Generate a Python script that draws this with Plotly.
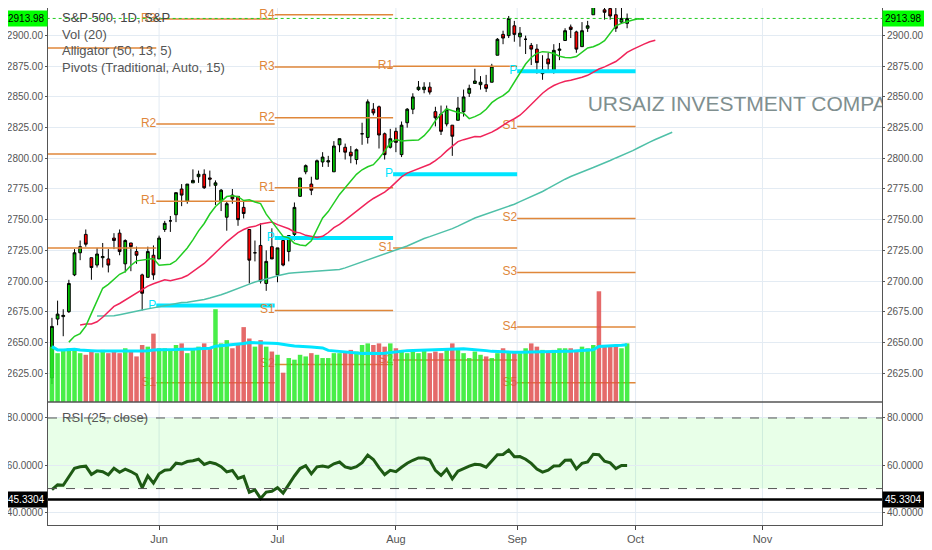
import plotly.graph_objects as go
import numpy as np

opens = [2621,2669,2671,2675,2705,2723,2738,2719,2713,2719,2718,2735,2739,2714,2731,2724,2705,2703,2721,
 2718,2742,2749,2754,2775,2765,2780,2785,2787,2784,2778,2765,2752,2770,2769,2760,2742,2723,2729,2698,2728,
 2705,2733,2724,2738,2769,2789,2779,2783,2797,2797,2789,2811,2809,2805,2799,2820,2817,2840,2842,2820,2809,
 2822,2803,2829,2840,2856,2856,2858,2838,2836,2828,2827,2831,2838,2853,2861,2860,2860,2862,2884,2901,2900,2908,2899,
 2897,2892,2889,2869,2881,2872,2888,2896,2907,2903,2891,2906,2917,2937,2921,2922,2917,2911,2910]
highs = [2670,2684,2677,2701,2726,2733,2742,2719,2727,2731,2726,2739,2742,2734,2731,2728,2706,2728,2729,
 2737,2749,2753,2772,2779,2779,2791,2790,2791,2790,2782,2775,2765,2775,2769,2765,2742,2733,2747,2725,2743,
 2727,2736,2737,2764,2784,2795,2785,2799,2805,2802,2814,2816,2812,2810,2808,2829,2848,2845,2843,2821,2824,
 2825,2830,2841,2853,2863,2862,2862,2842,2843,2843,2827,2850,2856,2860,2873,2867,2868,2877,2898,2904,2916,2912,2907,
 2900,2894,2893,2884,2886,2893,2894,2906,2909,2904,2911,2912,2934,2940,2923,2924,2931,2925,2918]
lows = [2616,2664,2655,2674,2704,2717,2728,2701,2711,2711,2707,2726,2721,2707,2708,2714,2676,2703,2701,
 2718,2740,2740,2748,2761,2763,2780,2780,2775,2777,2762,2757,2741,2763,2745,2751,2698,2716,2698,2692,2718,
 2699,2712,2716,2733,2769,2787,2770,2783,2793,2793,2789,2805,2799,2796,2795,2811,2812,2835,2808,2799,2808,
 2805,2801,2825,2836,2855,2853,2852,2826,2819,2826,2802,2831,2834,2850,2861,2856,2854,2862,2884,2893,2898,2895,2891,
 2885,2876,2869,2864,2870,2869,2880,2896,2898,2886,2891,2903,2917,2925,2913,2913,2903,2910,2906]
closes = [2663,2673,2672,2698,2723,2728,2730,2711,2722,2720,2713,2733,2724,2733,2728,2721,2690,2724,2705,
 2735,2747,2749,2772,2770,2779,2782,2787,2776,2783,2780,2774,2763,2767,2750,2755,2717,2723,2700,2716,2718,
 2727,2713,2737,2760,2784,2794,2774,2798,2801,2798,2810,2816,2805,2802,2807,2820,2846,2837,2819,2803,2816,
 2813,2827,2840,2850,2858,2858,2854,2833,2822,2840,2818,2841,2850,2857,2863,2862,2857,2875,2897,2898,2914,2901,2902,
 2897,2889,2878,2872,2877,2888,2889,2904,2905,2889,2904,2908,2931,2930,2919,2916,2906,2914,2914]
volumes = [3.4,3.0,3.2,3.3,3.3,3.0,2.9,3.1,3.0,3.2,3.0,3.1,3.0,3.3,3.1,2.8,3.5,3.4,4.2,
 3.3,3.3,3.2,3.5,3.6,3.0,3.3,3.4,3.6,3.3,5.7,3.6,3.8,3.3,3.5,4.6,3.9,3.4,3.8,3.4,3.1,
 2.9,1.8,2.7,2.6,2.9,2.8,3.0,2.9,2.7,2.7,3.0,3.0,3.1,3.2,3.1,3.5,3.6,3.5,3.6,3.4,3.6,
 3.3,3.2,3.0,3.1,3.0,3.2,3.0,3.1,3.0,3.2,3.6,3.3,3.0,2.7,3.1,2.9,2.8,2.7,3.0,3.3,3.1,3.1,3.0,
 3.3,3.6,3.4,3.2,3.1,3.2,3.3,3.3,3.3,3.2,3.4,3.3,3.5,6.8,3.4,3.5,3.5,3.3,3.6]

month_labels = ["Jun", "Jul", "Aug", "Sep", "Oct", "Nov"]
month_pos = [19, 40, 61, 82.5, 103.5, 126]
piv_bounds = [-1, 18.5, 39.5, 60.5, 82.5, 103.5]
pivots = [
    {"R3": 2890, "R2": 2803.5, "R1": 2727},
    {"R3": 2913.6, "R2": 2828, "R1": 2765, "P": 2680, "S1": 2617},
    {"R4": 2917, "R3": 2874.5, "R2": 2833, "R1": 2776, "P": 2735, "S1": 2676, "S2": 2632},
    {"R1": 2875, "P": 2787, "S1": 2727, "S2": 2635.6},
    {"P": 2871, "S1": 2826, "S2": 2751, "S3": 2707, "S4": 2662.5, "S5": 2617},
]
last_price = 2913.98
rsi_last = 45.3304

n = len(closes)
idx = np.arange(n)
hl2 = (np.array(highs) + np.array(lows)) / 2

def smma(src, length, seed):
    out = []
    v = seed
    for s in src:
        v = (v * (length - 1) + s) / length
        out.append(v)
    return np.array(out)

jaw = smma(hl2, 50, 2672)
teeth = smma(hl2, 13, 2666)
lips = smma(hl2, 5, 2652)

ag, al = 6.5, 6.5
rsi = [49.5]
for i in range(1, n):
    d = closes[i] - closes[i - 1]
    ag = (ag * 24 + max(d, 0)) / 25
    al = (al * 24 + max(-d, 0)) / 25
    rsi.append(100 - 100 / (1 + ag / al))

vol_ma = [np.mean(volumes[max(0, i - 19):i + 1]) for i in range(n)]

fig = go.Figure()
ORANGE = "#e0873a"
CYAN = "#00e5ff"
F = "Liberation Sans"
SPLIT = 123 / 517

for k, lv in enumerate(pivots):
    x0, x1 = piv_bounds[k], piv_bounds[k + 1]
    for name, val in lv.items():
        isP = name == "P"
        fig.add_trace(go.Scatter(x=[x0, x1], y=[val, val], mode="lines", yaxis="y",
                                 line=dict(color=CYAN if isP else ORANGE, width=4 if isP else 1.5),
                                 hoverinfo="skip", showlegend=False))
        fig.add_trace(go.Scatter(x=[x0], y=[val], mode="text", text=[name], yaxis="y",
                                 textposition="middle left", cliponaxis=True,
                                 textfont=dict(color=CYAN if isP else ORANGE, size=12, family=F),
                                 hoverinfo="skip", showlegend=False))

vcol = ["rgba(40,235,40,0.85)" if c >= o else "rgba(225,80,80,0.85)" for o, c in zip(opens, closes)]
fig.add_trace(go.Bar(x=idx, y=volumes, yaxis="y3", marker=dict(color=vcol, line=dict(width=0)),
                     width=0.8, showlegend=False, hoverinfo="skip"))
fig.add_trace(go.Scatter(x=idx, y=vol_ma, yaxis="y3", mode="lines", line=dict(color=CYAN, width=3),
                         showlegend=False, hoverinfo="skip"))

fig.add_trace(go.Scatter(x=idx + 8, y=jaw, yaxis="y", mode="lines", line=dict(color="#4fc0a8", width=1.5), showlegend=False))
fig.add_trace(go.Scatter(x=idx + 5, y=teeth, yaxis="y", mode="lines", line=dict(color="#f0245a", width=1.5), showlegend=False))
fig.add_trace(go.Scatter(x=idx + 3, y=lips, yaxis="y", mode="lines", line=dict(color="#22cc22", width=1.5), showlegend=False))

fig.add_trace(go.Candlestick(x=idx, open=opens, high=highs, low=lows, close=closes, yaxis="y",
                             increasing=dict(fillcolor="#00c000", line=dict(color="#000000", width=1)),
                             decreasing=dict(fillcolor="#ff0000", line=dict(color="#000000", width=1)),
                             whiskerwidth=0, showlegend=False))

fig.add_trace(go.Scatter(x=[-2, 150], y=[last_price, last_price], yaxis="y", mode="lines",
                         line=dict(color="#22cc22", width=1, dash="dot"), showlegend=False))
fig.add_trace(go.Scatter(x=[95], y=[2843], yaxis="y", mode="text", text=["URSAIZ INVESTMENT COMPANY"],
                         textposition="middle right", cliponaxis=True,
                         textfont=dict(size=21, color="#7f8f8f", family=F), showlegend=False))
fig.add_trace(go.Scatter(x=[0], y=[2700], yaxis="y2", mode="markers", marker=dict(opacity=0), showlegend=False))

fig.add_trace(go.Scatter(x=idx, y=rsi, yaxis="y4", mode="lines", line=dict(color="#1e5a14", width=3), showlegend=False))
fig.add_trace(go.Scatter(x=[0], y=[60], yaxis="y5", mode="markers", marker=dict(opacity=0), showlegend=False))

shapes = []
for p in month_pos:
    shapes.append(dict(type="line", xref="x", yref="paper", x0=p, x1=p, y0=0, y1=1,
                       line=dict(color="#e3ebf3", width=1), layer="below"))
shapes += [
    dict(type="rect", xref="paper", yref="y4", x0=0, x1=1, y0=50, y1=80, fillcolor="rgba(0,255,0,0.09)", line=dict(width=0), layer="below"),
    dict(type="line", xref="paper", yref="y4", x0=0, x1=1, y0=80, y1=80, line=dict(color="#555", width=1, dash="dash")),
    dict(type="line", xref="paper", yref="y4", x0=0, x1=1, y0=50, y1=50, line=dict(color="#555", width=1, dash="dash")),
    dict(type="line", xref="paper", yref="y4", x0=0, x1=1, y0=rsi_last, y1=rsi_last, line=dict(color="#000", width=2.5)),
    dict(type="line", xref="paper", yref="paper", x0=0, x1=1, y0=SPLIT, y1=SPLIT, line=dict(color="#555", width=1.5)),
]

ann = []
for i, t in enumerate(["S&P 500, 1D, S&P", "Vol (20)", "Alligator (50, 13, 5)", "Pivots (Traditional, Auto, 15)"]):
    ann.append(dict(xref="paper", yref="paper", x=0.014, y=1 - (10 + 16.5 * i) / 517, text=t, showarrow=False,
                    xanchor="left", yanchor="middle", font=dict(size=13, color="#444" if i == 0 else "#555", family=F)))
ann.append(dict(xref="paper", yref="y4", x=0.014, y=80, text="RSI (25, close)", showarrow=False,
                xanchor="left", yanchor="middle", font=dict(size=13, color="#555", family=F)))
for xp, xa in [(0, "right"), (1, "left")]:
    ann.append(dict(xref="paper", yref="y", x=xp, y=last_price, text="2913.98", showarrow=False, xanchor=xa,
                    xshift=0, bgcolor="#00ff00", font=dict(size=10, color="#000", family=F), borderpad=2))
    ann.append(dict(xref="paper", yref="y4", x=xp, y=rsi_last, text="45.3304", showarrow=False, xanchor=xa,
                    xshift=0, bgcolor="#000000", font=dict(size=10, color="#fff", family=F), borderpad=2))

pticks = list(range(2625, 2926, 25))
ax_common = dict(tickfont=dict(size=10, color="#555", family=F), showline=True, linecolor="#555", ticks="outside",
                 ticklen=2, tickcolor="#555", zeroline=False, automargin=False)
fig.update_layout(
    width=924, height=542, margin=dict(l=40, r=50, t=0, b=25, autoexpand=False),
    plot_bgcolor="white", paper_bgcolor="white", showlegend=False, bargap=0.2,
    xaxis=dict(range=[-0.7, 147.2], tickvals=month_pos, ticktext=month_labels, showgrid=False,
               rangeslider=dict(visible=False), anchor="y4", showline=True, linecolor="#555", automargin=False,
               tickfont=dict(size=11, color="#555", family=F), ticks="outside", ticklen=4, zeroline=False),
    yaxis=dict(domain=[SPLIT, 1], range=[2601.4, 2922.5], tickvals=pticks, gridcolor="#e3ebf3",
               ticktext=[f"{v:.2f}" for v in pticks], side="left", **ax_common),
    yaxis2=dict(overlaying="y", matches="y", side="right", tickvals=pticks, ticktext=[f"{v:.2f}" for v in pticks],
                showgrid=False, **ax_common),
    yaxis3=dict(overlaying="y", range=[0, 24.2], visible=False),
    yaxis4=dict(domain=[0, SPLIT], range=[34.5, 86.8], tickvals=[40, 60, 80], gridcolor="#e3ebf3",
                ticktext=["40.0000", "60.0000", "80.0000"], side="left", **ax_common),
    yaxis5=dict(overlaying="y4", matches="y4", side="right", tickvals=[40, 60, 80],
                ticktext=["40.0000", "60.0000", "80.0000"], showgrid=False, **ax_common),
    shapes=shapes, annotations=ann,
)
fig.write_html("out.html")
